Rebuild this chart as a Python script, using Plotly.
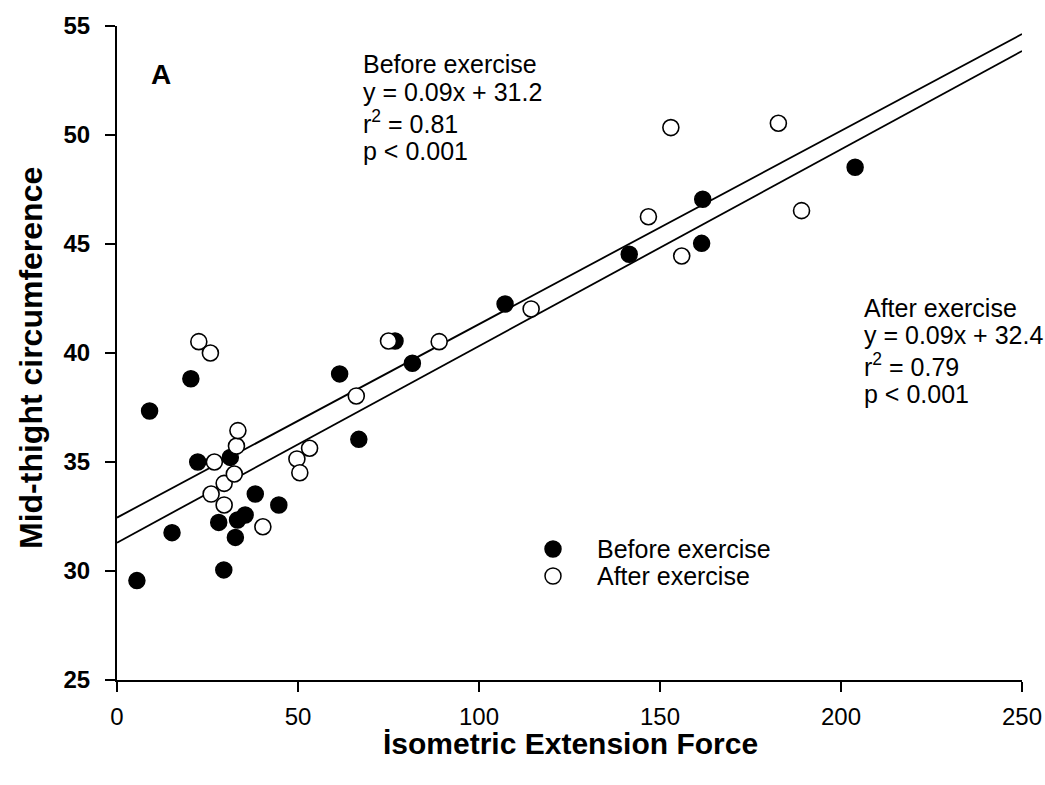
import plotly.graph_objects as go

# ---- data ----
before_x = [5.5, 9.0, 15.2, 20.4, 22.3, 28.1, 29.5, 31.3, 32.7, 33.3, 35.4, 38.2, 44.7,
            61.5, 66.8, 76.8, 81.6, 107.2, 141.5, 161.5, 161.8, 203.9]
before_y = [29.56, 37.34, 31.76, 38.82, 35.0, 32.23, 30.05, 35.21, 31.54, 32.34, 32.57, 33.53, 33.03,
            39.04, 36.04, 40.55, 39.53, 42.25, 44.53, 45.03, 47.05, 48.52]
after_x = [22.6, 25.8, 26.0, 26.9, 29.6, 29.6, 32.4, 33.0, 33.4, 40.3, 49.7, 50.5, 53.2, 66.1,
           75.0, 89.0, 114.4, 146.8, 153.0, 156.0, 182.7, 189.1]
after_y = [40.52, 40.0, 33.53, 35.0, 34.02, 33.03, 34.45, 35.73, 36.44, 32.03, 35.14, 34.51, 35.63, 38.03,
           40.55, 40.52, 42.02, 46.25, 50.34, 44.45, 50.54, 46.53]
fit_x = [0, 250]
before_fit_y = [31.3, 53.85]
after_fit_y = [32.45, 54.63]

x_ticks = [0, 50, 100, 150, 200, 250]
y_ticks = [25, 30, 35, 40, 45, 50, 55]

FONT = "Liberation Sans, Arial, sans-serif"
TXT = 25

# plot area in pixels
L, R, T, B = 117, 1022, 26, 680
W, H = 1045, 785


def px(xpix):
    return (xpix - L) / (R - L)


def py(ypix):
    return (B - ypix) / (B - T)


fig = go.Figure()
fig.add_trace(go.Scatter(x=fit_x, y=before_fit_y, mode="lines",
                         line=dict(color="black", width=1.8), showlegend=False, hoverinfo="skip"))
fig.add_trace(go.Scatter(x=fit_x, y=after_fit_y, mode="lines",
                         line=dict(color="black", width=1.8), showlegend=False, hoverinfo="skip"))
fig.add_trace(go.Scatter(x=before_x, y=before_y, mode="markers", name="Before exercise",
                         marker=dict(size=16, color="black", line=dict(color="black", width=1.5)),
                         showlegend=False))
fig.add_trace(go.Scatter(x=after_x, y=after_y, mode="markers", name="After exercise",
                         marker=dict(size=16, color="white", line=dict(color="black", width=1.6)),
                         showlegend=False))

annotations = []


def add_text(text, xpix, ypix, size=TXT, bold=False, xanchor="left"):
    t = f"<b>{text}</b>" if bold else text
    annotations.append(dict(text=t, x=px(xpix), y=py(ypix), xref="paper", yref="paper",
                            xanchor=xanchor, yanchor="middle", showarrow=False, borderpad=0,
                            font=dict(family=FONT, size=size, color="black")))


# panel label
add_text("A", 150, 74, size=28, bold=True)

# before-exercise stats
before_lines = ["Before exercise", "y = 0.09x + 31.2", "r<sup>2</sup> = 0.81", "p &lt; 0.001"]
for txt, yc in zip(before_lines, [64, 92, 122, 151]):
    add_text(txt, 362, yc)

# after-exercise stats
after_lines = ["After exercise", "y = 0.09x + 32.4", "r<sup>2</sup> = 0.79", "p &lt; 0.001"]
for txt, yc in zip(after_lines, [308, 335, 365, 394]):
    add_text(txt, 863, yc)

# legend text
add_text("Before exercise", 596, 549)
add_text("After exercise", 596, 576)

# axis titles
annotations.append(dict(text="<b>Mid-thight circumference</b>", x=px(31), y=py(358),
                        xref="paper", yref="paper", xanchor="center", yanchor="middle",
                        textangle=-90, showarrow=False,
                        font=dict(family=FONT, size=32, color="black")))
annotations.append(dict(text="<b>İsometric Extension Force</b>", x=px(570), y=py(743),
                        xref="paper", yref="paper", xanchor="center", yanchor="middle",
                        showarrow=False, font=dict(family=FONT, size=30, color="black")))

# legend symbols
shapes = []
for ycen, fill in [(549, "black"), (576, "white")]:
    shapes.append(dict(type="circle", xref="paper", yref="paper",
                       xsizemode="pixel", ysizemode="pixel",
                       xanchor=px(553), yanchor=py(ycen),
                       x0=-8, x1=8, y0=-8, y1=8,
                       fillcolor=fill, line=dict(color="black", width=1.5)))

fig.update_layout(
    width=W, height=H,
    margin=dict(l=L, r=W - R, t=T, b=H - B),
    paper_bgcolor="white", plot_bgcolor="white",
    font=dict(family=FONT, color="black"),
    annotations=annotations, shapes=shapes,
    showlegend=False,
)
fig.update_xaxes(range=[0, 250], tickvals=x_ticks, ticktext=[str(v) for v in x_ticks],
                 showgrid=False, zeroline=False, showline=True, linecolor="black", linewidth=2,
                 ticks="outside", ticklen=10, tickwidth=2, tickcolor="black", automargin=False,
                 tickfont=dict(family=FONT, size=24, color="black"), ticklabelstandoff=4)
fig.update_yaxes(range=[25, 55], tickvals=y_ticks, ticktext=[f"<b>{v}</b>" for v in y_ticks],
                 showgrid=False, zeroline=False, showline=True, linecolor="black", linewidth=2,
                 ticks="outside", ticklen=10, tickwidth=2, tickcolor="black", automargin=False,
                 tickfont=dict(family=FONT, size=24, color="black"), ticklabelstandoff=10)

fig.write_html("out.html")
